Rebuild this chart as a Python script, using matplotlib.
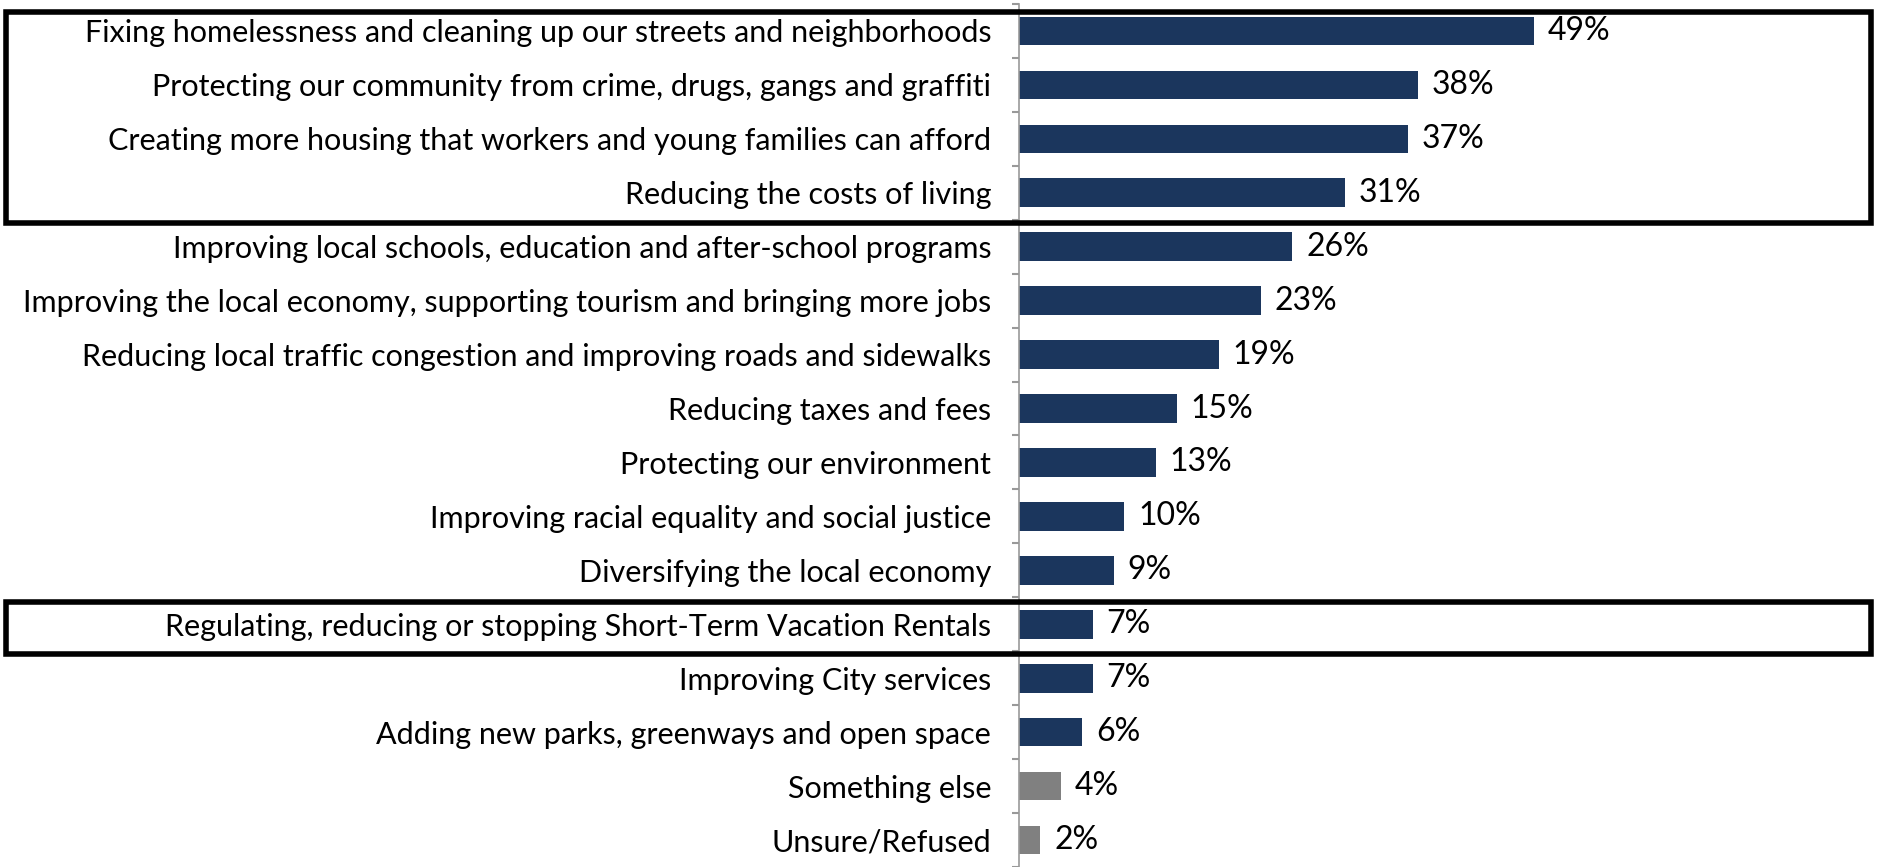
import matplotlib
matplotlib.use("Agg")
import matplotlib.pyplot as plt
from matplotlib.patches import Rectangle
from matplotlib.transforms import blended_transform_factory

categories = [
    "Fixing homelessness and cleaning up our streets and neighborhoods",
    "Protecting our community from crime, drugs, gangs and graffiti",
    "Creating more housing that workers and young families can afford",
    "Reducing the costs of living",
    "Improving local schools, education and after-school programs",
    "Improving the local economy, supporting tourism and bringing more jobs",
    "Reducing local traffic congestion and improving roads and sidewalks",
    "Reducing taxes and fees",
    "Protecting our environment",
    "Improving racial equality and social justice",
    "Diversifying the local economy",
    "Regulating, reducing or stopping Short-Term Vacation Rentals",
    "Improving City services",
    "Adding new parks, greenways and open space",
    "Something else",
    "Unsure/Refused",
]
values = [49, 38, 37, 31, 26, 23, 19, 15, 13, 10, 9, 7, 7, 6, 4, 2]
is_other = [False] * 14 + [True, True]

NAVY = "#1b365d"
GREY = "#808080"

plt.rcParams["font.family"] = ["Lato", "DejaVu Sans"]

fig = plt.figure(figsize=(18.77, 8.67), dpi=100)
ax = fig.add_axes([0.5429, 0.0, 0.4571, 0.9954])

ypos = list(range(len(categories)))
colors = [GREY if o else NAVY for o in is_other]
ax.barh(ypos, values, height=0.53, color=colors, edgecolor="none")

for y, v in zip(ypos, values):
    ax.annotate(f"{v}%", xy=(v, y), xytext=(14, 0), textcoords="offset pixels",
                va="center", ha="left", fontsize=23, color="black")

ax.set_xlim(0, 81.7)
ax.set_ylim(len(categories) - 0.5, -0.5)

ax.set_yticks(ypos)
ax.set_yticklabels(categories, fontsize=22)
ax.tick_params(axis="y", which="major", length=0, pad=20)
ax.set_yticks([i - 0.5 for i in range(len(categories) + 1)], minor=True)
ax.tick_params(axis="y", which="minor", length=5, width=1.5, color="#999999", direction="out")
ax.set_xticks([])

for side in ("top", "right", "bottom"):
    ax.spines[side].set_visible(False)
ax.spines["left"].set_color("#999999")
ax.spines["left"].set_linewidth(1.2)

# highlight frames around grouped items
trans = blended_transform_factory(fig.transFigure, ax.transData)
for top, bottom in [(-0.35, 3.56), (10.59, 11.55)]:
    rect = Rectangle((0.003, top), 0.994, bottom - top, transform=trans,
                     fill=False, edgecolor="black", linewidth=4,
                     clip_on=False)
    fig.add_artist(rect)

fig.savefig("out.png", dpi=100)
